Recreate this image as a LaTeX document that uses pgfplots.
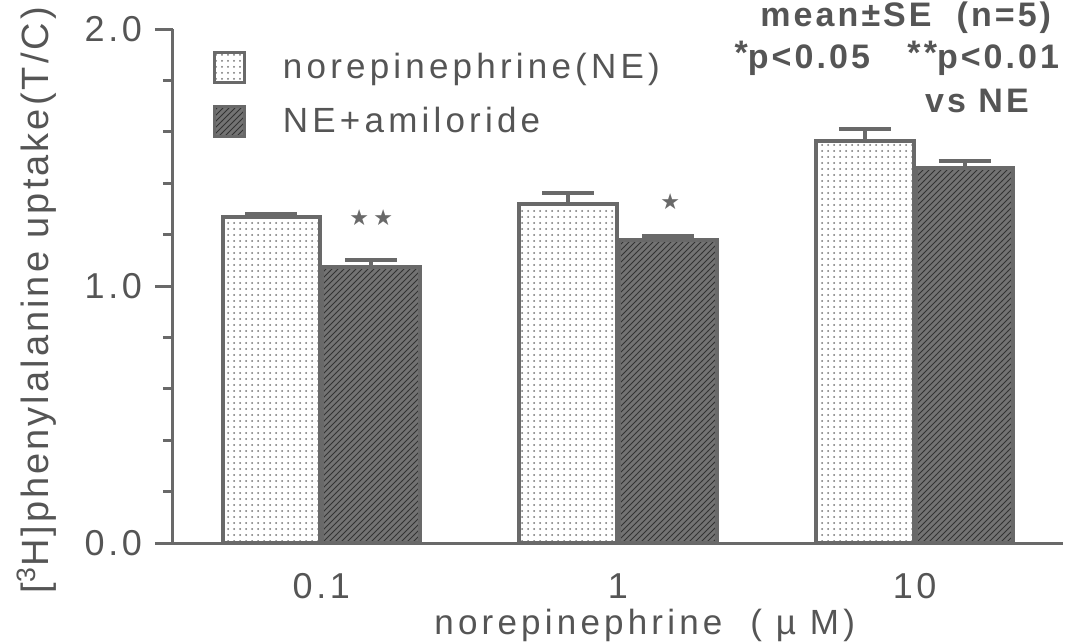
\documentclass[border=0pt]{standalone}
\usepackage{pgfplots}
\pgfplotsset{compat=1.18}
\usepackage{pgfplotstable}
\usetikzlibrary{patterns}
\usepackage{fontspec}
\setmainfont{Liberation Sans}
\newfontfamily\legfont{Liberation Sans}[LetterSpace=12]
\newfontfamily\labfont{Liberation Sans}[LetterSpace=8]
\newfontfamily\xlabfont{Liberation Sans}[LetterSpace=12]
\newfontfamily\tickfont{Liberation Sans}[LetterSpace=10]
\newfontfamily\notefont{Liberation Sans}[LetterSpace=9]
\newfontfamily\starfont{DejaVu Sans}
\definecolor{axgray}{RGB}{105,105,105}
\definecolor{txtgray}{RGB}{85,85,85}
\definecolor{darkfill}{RGB}{115,115,115}

% mean and SE
\pgfplotstableread{
x y e
0 1.270 0.012
1 1.320 0.043
2 1.565 0.046
}\ne
\pgfplotstableread{
x y e
0 1.075 0.026
1 1.180 0.016
2 1.460 0.027
}\amil

\begin{document}
\begin{tikzpicture}
\begin{axis}[
    name=ax,
    scale only axis,
    width=445pt, height=257pt,
    xmin=-0.5, xmax=2.5,
    ymin=0, ymax=2,
    clip=false,
    axis lines*=left,
    axis line style={axgray, line width=1.5pt, -},
    tick style={axgray, line width=1.5pt},
    tick align=outside,
    major tick length=9pt,
    minor tick length=5pt,
    xtick={0,1,2},
    xticklabels={0.1,1,10},
    xtick style={draw=none},
    minor xtick={-0.5,0.5,1.5,2.5},
    ytick={0,1,2},
    yticklabels={0.0,1.0,2.0},
    minor ytick={0.2,0.4,0.6,0.8,1.2,1.4,1.6,1.8},
    xticklabel style={font=\tickfont\fontsize{18}{20}\selectfont, text=txtgray, anchor=base, yshift=-18.5pt},
    yticklabel style={font=\tickfont\fontsize{18}{20}\selectfont, text=txtgray, anchor=east, xshift=-3pt},
    xlabel={norepinephrine\ \ ( µ M)},
    xlabel style={font=\xlabfont\fontsize{17.5}{20}\selectfont, text=txtgray, at={(axis description cs:0.53,-0.161)}, anchor=center},
    ylabel={[\textsuperscript{3}H]phenylalanine uptake(T/C)},
    ylabel style={font=\labfont\fontsize{19}{22}\selectfont, text=txtgray, at={(axis description cs:-0.153,0.4725)}, anchor=center},
    ybar,
    bar width=0.33,
    legend style={at={(axis description cs:0.045,0.962)}, anchor=north west, draw=none, fill=none,
        inner sep=0pt, row sep=9pt, font=\legfont\fontsize{17.5}{20}\selectfont, text=txtgray,
        nodes={inner sep=2pt, anchor=west}},
    legend cell align=left,
    legend image code/.code={\draw[#1, line width=1.5pt] (0pt,-7.5pt) rectangle (15pt,7.5pt);
        \node[draw=none, fill=none, inner sep=0pt, minimum size=0pt] at (31pt,0pt) {};},
]
\addplot[bar shift=-0.168, draw=axgray, line width=2pt, fill=white,
    postaction={pattern=dots, pattern color=black!55},
    error bars/.cd, y dir=plus, y explicit, error mark=|,
    error bar style={line width=2pt, draw=axgray},
    error mark options={line width=2pt, mark size=13pt, draw=axgray}]
    table[x=x, y=y, y error=e] {\ne};
\addlegendentry{norepinephrine(NE)}
\addplot[bar shift=0.168, draw=axgray, line width=2pt, fill=darkfill,
    postaction={pattern=north east lines, pattern color=black!80},
    error bars/.cd, y dir=plus, y explicit, error mark=|,
    error bar style={line width=2pt, draw=axgray},
    error mark options={line width=2pt, mark size=13pt, draw=axgray}]
    table[x=x, y=y, y error=e] {\amil};
\addlegendentry{NE+amiloride}

% x axis line runs a little past the y axis
\draw[axgray, line width=1.5pt] (rel axis cs:-0.018,0) -- (rel axis cs:0,0);

% significance marks
\node[font=\starfont\fontsize{11}{11}\selectfont, text=axgray] at (axis cs:0.128,1.265) {★};
\node[font=\starfont\fontsize{11}{11}\selectfont, text=axgray] at (axis cs:0.209,1.265) {★};
\node[font=\starfont\fontsize{11}{11}\selectfont, text=axgray] at (axis cs:1.176,1.327) {★};

% note in the upper right
\node[font=\notefont\bfseries\fontsize{17}{20}\selectfont, text=txtgray] at (axis cs:1.97,2.045) {mean±SE\ \ (n=5)};
\node[font=\notefont\bfseries\fontsize{17}{20}\selectfont, text=txtgray] at (axis cs:1.94,1.885) {\raisebox{2pt}{*}p<0.05\ \ \ \raisebox{2pt}{**}p<0.01};
\node[font=\notefont\bfseries\fontsize{17}{20}\selectfont, text=txtgray] at (axis cs:2.21,1.72) {vs NE};
\end{axis}
\pgfresetboundingbox
\path[use as bounding box] ([xshift=-86.5pt,yshift=-50pt]ax.south west) rectangle ([xshift=9pt,yshift=14.5pt]ax.north east);
\end{tikzpicture}
\end{document}
